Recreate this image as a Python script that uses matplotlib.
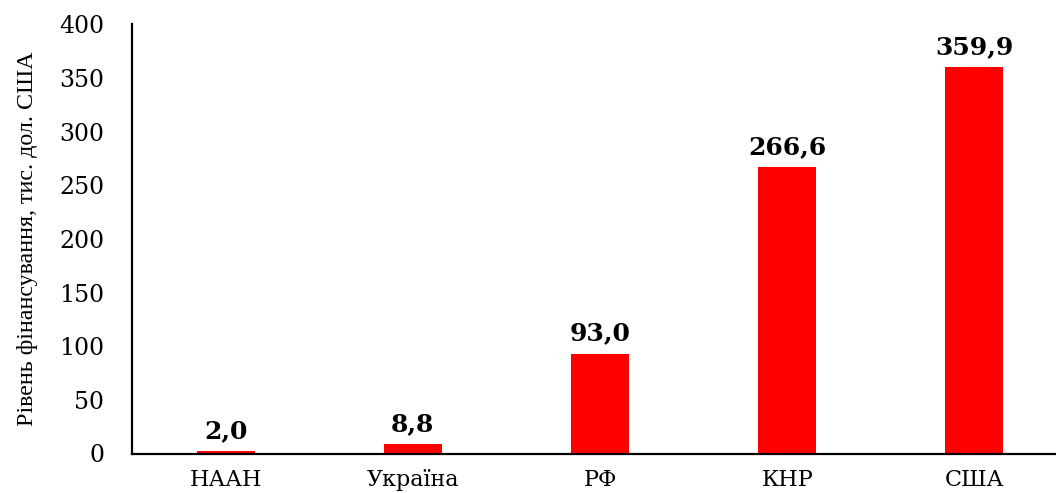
import matplotlib
matplotlib.use("Agg")
import matplotlib.pyplot as plt

categories = ["НААН", "Україна", "РФ", "КНР", "США"]
values = [2.0, 8.8, 93.0, 266.6, 359.9]
yticks = [0, 50, 100, 150, 200, 250, 300, 350, 400]

fig = plt.figure(figsize=(10.56, 4.93), dpi=100)
ax = fig.add_axes([132/1056, 1 - 453.5/493, (1056 - 132)/1056, (453.5 - 24.3)/493])

x = list(range(len(categories)))
bars = ax.bar(x, values, width=0.31, color="#FF0000", zorder=2)

for xi, v in zip(x, values):
    ax.annotate(f"{v:.1f}".replace(".", ","), (xi, v), xytext=(0, 6),
                textcoords="offset points", ha="center", va="bottom",
                fontsize=18, fontweight="bold", family="DejaVu Serif")

ax.set_ylim(0, 400)
ax.set_xlim(-0.5, 4.436)
ax.set_yticks(yticks)
ax.set_yticklabels([str(t) for t in yticks], family="DejaVu Serif", fontsize=17)
ax.set_xticks(x)
ax.set_xticklabels(categories, family="DejaVu Serif", fontsize=16)
ax.tick_params(axis="y", length=0, pad=20)
ax.tick_params(axis="x", length=0, pad=11)

for s in ["top", "right"]:
    ax.spines[s].set_visible(False)
for s in ["left", "bottom"]:
    ax.spines[s].set_linewidth(1.6)
    ax.spines[s].set_color("black")

ax.set_ylabel("Рівень фінансування, тис. дол. США", family="Liberation Serif",
              fontsize=17.3)
ax.yaxis.set_label_coords(-94/924, 0.5)

fig.savefig("out.png", dpi=100)
